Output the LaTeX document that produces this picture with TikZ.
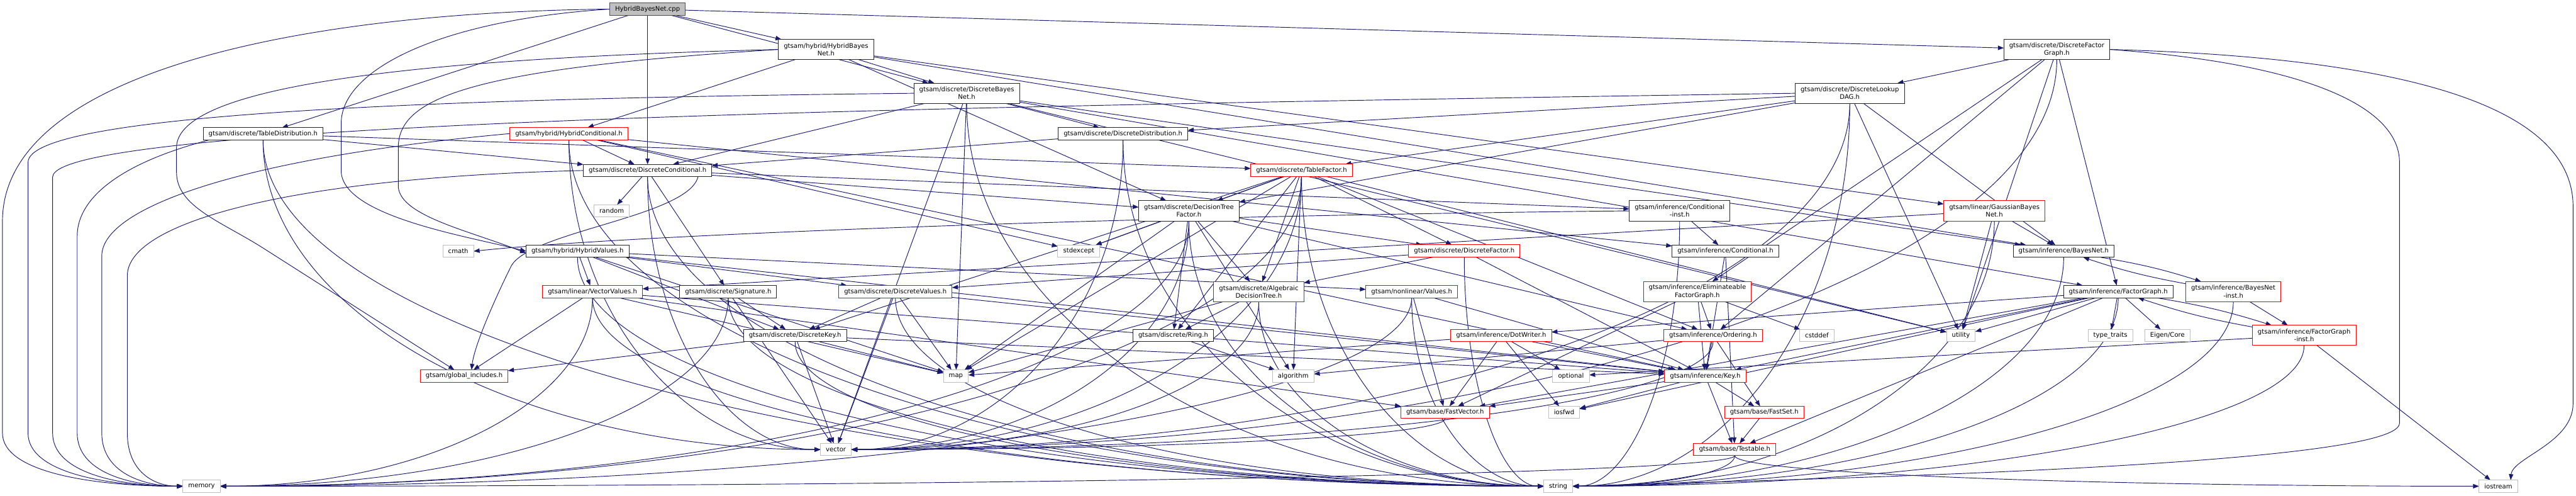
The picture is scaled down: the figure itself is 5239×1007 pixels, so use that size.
\documentclass[tikz,border=0pt]{standalone}
\usepackage{fontspec}
\setmainfont{DejaVu Sans}
\usetikzlibrary{arrows.meta,calc}
\definecolor{edgecol}{HTML}{191970}
\definecolor{extcol}{HTML}{BFBFBF}
\pgfdeclarelayer{bglayer}
\pgfdeclarelayer{edgelayer}
\pgfsetlayers{bglayer,edgelayer,main}
\newcommand\elbowL[2]{\draw[edg] (#1.south) .. controls ($(#1.south)!0.55!(#1.south|-#2.west)$) and ($(#2.west)!0.55!(#1.south|-#2.west)$) .. (#2.west);}
\newcommand\elbowR[2]{\draw[edg] (#1.south) .. controls ($(#1.south)!0.55!(#1.south|-#2.east)$) and ($(#2.east)!0.55!(#1.south|-#2.east)$) .. (#2.east);}
\begin{document}
\begin{tikzpicture}[x=1pt,y=-1pt,
  font=\fontsize{12.9}{15.5}\selectfont,
  box/.style={draw=black!85, line width=1.3pt, fill=white, inner xsep=11pt, inner ysep=0pt, minimum height=25pt, outer sep=0pt, align=center},
  two/.style={minimum height=41pt},
  doc/.style={box},
  trunc/.style={box, draw=red},
  ext/.style={box, draw=extcol},
  src/.style={box, fill=extcol, draw=black!70},
  edg/.style={draw=edgecol, line width=1.2pt, -{Triangle[length=12pt,width=9pt]}}]
\begin{pgfonlayer}{bglayer}
\fill[white] (0,0) rectangle (5239,1007);
\end{pgfonlayer}
\useasboundingbox (0,0) rectangle (5239,1007);
% ---------- nodes ----------
\node[src] (cpp) at (1317,18.5) {HybridBayesNet.cpp};
\node[doc,two] (hbn) at (1680,100.5) {gtsam/hybrid/HybridBayes\\Net.h};
\node[doc,two] (dbn) at (1966,189.5) {gtsam/discrete/DiscreteBayes\\Net.h};
\node[doc,two] (dfg) at (4183,100.5) {gtsam/discrete/DiscreteFactor\\Graph.h};
\node[doc,two] (dlookup) at (3762,189.5) {gtsam/discrete/DiscreteLookup\\DAG.h};
\node[doc] (tdist) at (535,272) {gtsam/discrete/TableDistribution.h};
\node[trunc] (hcond) at (1157,271.5) {gtsam/hybrid/HybridConditional.h};
\node[doc] (ddist) at (2284,272) {gtsam/discrete/DiscreteDistribution.h};
\node[doc] (dcond) at (1317,346.5) {gtsam/discrete/DiscreteConditional.h};
\node[trunc] (tablefactor) at (2647,346) {gtsam/discrete/TableFactor.h};
\node[ext] (random) at (1244,428.5) {random};
\node[doc,two] (dtf) at (2418,428.5) {gtsam/discrete/DecisionTree\\Factor.h};
\node[doc,two] (condinst) at (3416,428.5) {gtsam/inference/Conditional\\-inst.h};
\node[trunc,two] (gbn) at (4056,428.5) {gtsam/linear/GaussianBayes\\Net.h};
\node[ext] (cmath) at (932,510.5) {cmath};
\node[doc] (hvalues) at (1174.5,510.5) {gtsam/hybrid/HybridValues.h};
\node[ext] (stdexcept) at (2194,510.5) {stdexcept};
\node[trunc] (dfactor) at (2978,510) {gtsam/discrete/DiscreteFactor.h};
\node[doc] (conditional) at (3509,510.5) {gtsam/inference/Conditional.h};
\node[doc] (bayesnet) at (4197,510.5) {gtsam/inference/BayesNet.h};
\node[doc] (signature) at (1481,592.5) {gtsam/discrete/Signature.h};
\node[trunc] (dvalues) at (1821,592.5) {gtsam/discrete/DiscreteValues.h};
\node[trunc] (vectorvalues) at (1205,592.5) {gtsam/linear/VectorValues.h};
\node[trunc,two] (algdt) at (2560,593) {gtsam/discrete/Algebraic\\DecisionTree.h};
\node[trunc] (values) at (2871,592.5) {gtsam/nonlinear/Values.h};
\node[trunc,two] (elim) at (3452,592.5) {gtsam/inference/Eliminateable\\FactorGraph.h};
\node[doc] (factorgraph) at (4308,592.5) {gtsam/inference/FactorGraph.h};
\node[trunc,two] (bayesnetinst) at (4542,592.5) {gtsam/inference/BayesNet\\-inst.h};
\node[doc] (dkey) at (1617,682) {gtsam/discrete/DiscreteKey.h};
\node[doc] (ring) at (2386,682) {gtsam/discrete/Ring.h};
\node[trunc] (dotwriter) at (3053,682) {gtsam/inference/DotWriter.h};
\node[trunc] (ordering) at (3484,682) {gtsam/inference/Ordering.h};
\node[ext] (cstddef) at (3695,682) {cstddef};
\node[ext] (utility) at (3988,682) {utility};
\node[ext] (typetraits) at (4292,682) {type\_traits};
\node[ext] (eigencore) at (4408,682) {Eigen/Core};
\node[trunc,two] (fginst) at (4686,681.5) {gtsam/inference/FactorGraph\\-inst.h};
\node[trunc] (globinc) at (944,764) {gtsam/global\_includes.h};
\node[ext] (map) at (1944,764) {map};
\node[ext] (algorithm) at (2630,764) {algorithm};
\node[ext] (optional) at (3195,764) {optional};
\node[trunc] (key) at (3468,764) {gtsam/inference/Key.h};
\node[trunc] (fastvector) at (2939,838) {gtsam/base/FastVector.h};
\node[ext] (iosfwd) at (3181,838) {iosfwd};
\node[trunc] (fastset) at (3588,838) {gtsam/base/FastSet.h};
\node[ext] (vector) at (1700,913.5) {vector};
\node[trunc] (testable) at (3528,913.5) {gtsam/base/Testable.h};
\node[ext] (memory) at (410,988) {memory};
\node[ext] (string) at (3169,988) {string};
\node[ext] (iostream) at (5081,988) {iostream};
% ---------- edges ----------
\begin{pgfonlayer}{edgelayer}
\foreach \a/\b in {cpp/hbn, cpp/dbn, cpp/dfg, cpp/dcond, cpp/tdist,
  hbn/dbn, hbn/dtf, hbn/hcond, hbn/bayesnet, hbn/gbn,
  dbn/dcond, dbn/ddist, dbn/bayesnet, dbn/factorgraph, dbn/map, dbn/utility, dbn/vector,
  dfg/dlookup, dfg/elim, dfg/factorgraph, dfg/ordering, dfg/utility,
  dlookup/ddist, dlookup/dtf, dlookup/tablefactor, dlookup/bayesnet, dlookup/utility,
  tdist/dcond, tdist/tablefactor,
  hcond/dcond, hcond/conditional, hcond/key, hcond/stdexcept,
  ddist/dcond,
  dcond/dtf, dcond/signature, dcond/condinst, dcond/random,
  tablefactor/dtf, tablefactor/dfactor, tablefactor/dkey, tablefactor/ring, tablefactor/algdt,
  tablefactor/ordering, tablefactor/algorithm, tablefactor/map, tablefactor/stdexcept, tablefactor/utility,
  dtf/algdt, dtf/dfactor, dtf/ring, dtf/ordering, dtf/algorithm, dtf/map, dtf/stdexcept,
  condinst/conditional,
  gbn/bayesnet, gbn/vectorvalues, gbn/utility,
  hvalues/dkey, hvalues/dvalues, hvalues/vectorvalues, hvalues/values, hvalues/key, hvalues/map,
  dfactor/dvalues, dfactor/algdt, dfactor/key,
  conditional/key, conditional/testable,
  signature/dkey, signature/vector,
  dvalues/dkey, dvalues/map, dvalues/vector, dvalues/key,
  vectorvalues/globinc, vectorvalues/map, vectorvalues/key, vectorvalues/fastvector,
  algdt/ring, algdt/map,
  values/key, values/fastvector,
  elim/ordering, elim/cstddef, elim/key, elim/fastvector,
  factorgraph/dotwriter, factorgraph/utility, factorgraph/typetraits, factorgraph/eigencore,
  factorgraph/fastvector, factorgraph/testable, factorgraph/key, factorgraph/iosfwd,
  bayesnetinst/fginst,
  fginst/iostream, fginst/optional,
  dkey/globinc, dkey/key, dkey/map, dkey/vector,
  ring/algorithm,
  dotwriter/map, dotwriter/fastvector, dotwriter/iosfwd, dotwriter/optional, dotwriter/key,
  ordering/algorithm, ordering/key, ordering/fastset,
  key/fastvector, key/iosfwd, key/fastset, key/testable,
  fastset/testable}
  {\draw[edg] (\a) -- (\b);}
% bottom row, from the left
\foreach \a/\b in {dbn/string, tdist/string, hcond/string, ddist/string, dcond/string,
  tablefactor/string, dtf/string, hvalues/string, dfactor/string, signature/string,
  dvalues/string, vectorvalues/string, algdt/string, values/string, dkey/string,
  tdist/vector, hcond/vector, dcond/vector, testable/iostream}
  {\elbowL{\a}{\b}}
% bottom row, from the right
\foreach \a/\b in {dlookup/string, condinst/string, gbn/string, factorgraph/string,
  bayesnet/string, bayesnetinst/string, fginst/string, testable/string,
  dfg/vector, dlookup/vector, ddist/vector, tablefactor/vector, dtf/vector, algdt/vector,
  ordering/vector, fastvector/vector,
  tablefactor/memory, dtf/memory, signature/memory, vectorvalues/memory, values/memory, testable/memory}
  {\elbowR{\a}{\b}}
% two-way pairs
\draw[edg] (bayesnet) to[bend left=4] (bayesnetinst);
\draw[edg] (bayesnetinst) to[bend left=4] (bayesnet);
\draw[edg] (factorgraph) to[bend left=4] (fginst);
\draw[edg] (fginst) to[bend left=4] (factorgraph);
% routed connectors
\draw[edg] (cpp.west) .. controls (600,25) and (5,150) .. (5,450) -- (5,880) .. controls (5,960) and (190,988) .. (memory.west);
\draw[edg] (dbn.west) .. controls (900,200) and (57,230) .. (57,330) -- (57,880) .. controls (57,960) and (215,988) .. (memory.west);
\draw[edg] (dlookup.west) .. controls (2000,215) and (107,245) .. (107,360) -- (107,880) .. controls (107,960) and (240,988) .. (memory.west);
\draw[edg] ([xshift=12pt]tdist.south west) .. controls (250,330) and (157,400) .. (157,480) -- (157,880) .. controls (157,960) and (265,988) .. (memory.west);
\draw[edg] (hcond.west) .. controls (500,320) and (207,420) .. (207,520) -- (207,880) .. controls (207,960) and (290,988) .. (memory.west);
\draw[edg] (dcond.west) .. controls (600,360) and (259,450) .. (259,560) -- (259,880) .. controls (259,960) and (315,988) .. (memory.west);
\draw[edg] (cpp.west) .. controls (900,40) and (694,140) .. (694,250) -- (694,350) .. controls (700,440) and (950,480) .. (hvalues.west);
\draw[edg] (hbn.west) .. controls (950,140) and (810,200) .. (810,300) -- (810,380) .. controls (815,440) and (960,470) .. ([yshift=-4pt]hvalues.west);
\draw[edg] (hbn.west) .. controls (800,120) and (359,180) .. (359,300) -- (359,350) .. controls (359,420) and (450,450) .. (535,504) -- ([xshift=-20pt]globinc.north);
\draw[edg] ([xshift=-28pt]dcond.south east) .. controls (1400,440) and (1080,470) .. (1040,540) .. controls (1010,600) and (965,700) .. ([xshift=15pt]globinc.north);
\draw[edg] (condinst.west) .. controls (2200,440) and (1250,480) .. (cmath.east);
\draw[edg] (dfg.east) .. controls (5000,120) and (5233,250) .. (5233,420) -- (5233,820) .. controls (5233,900) and (5110,930) .. ([xshift=25pt]iostream.north);
\draw[edg] (dfg.east) .. controls (4700,130) and (4880,220) .. (4880,330) -- (4880,860) .. controls (4880,950) and (3600,975) .. (string.east);
\end{pgfonlayer}
\end{tikzpicture}
\end{document}
